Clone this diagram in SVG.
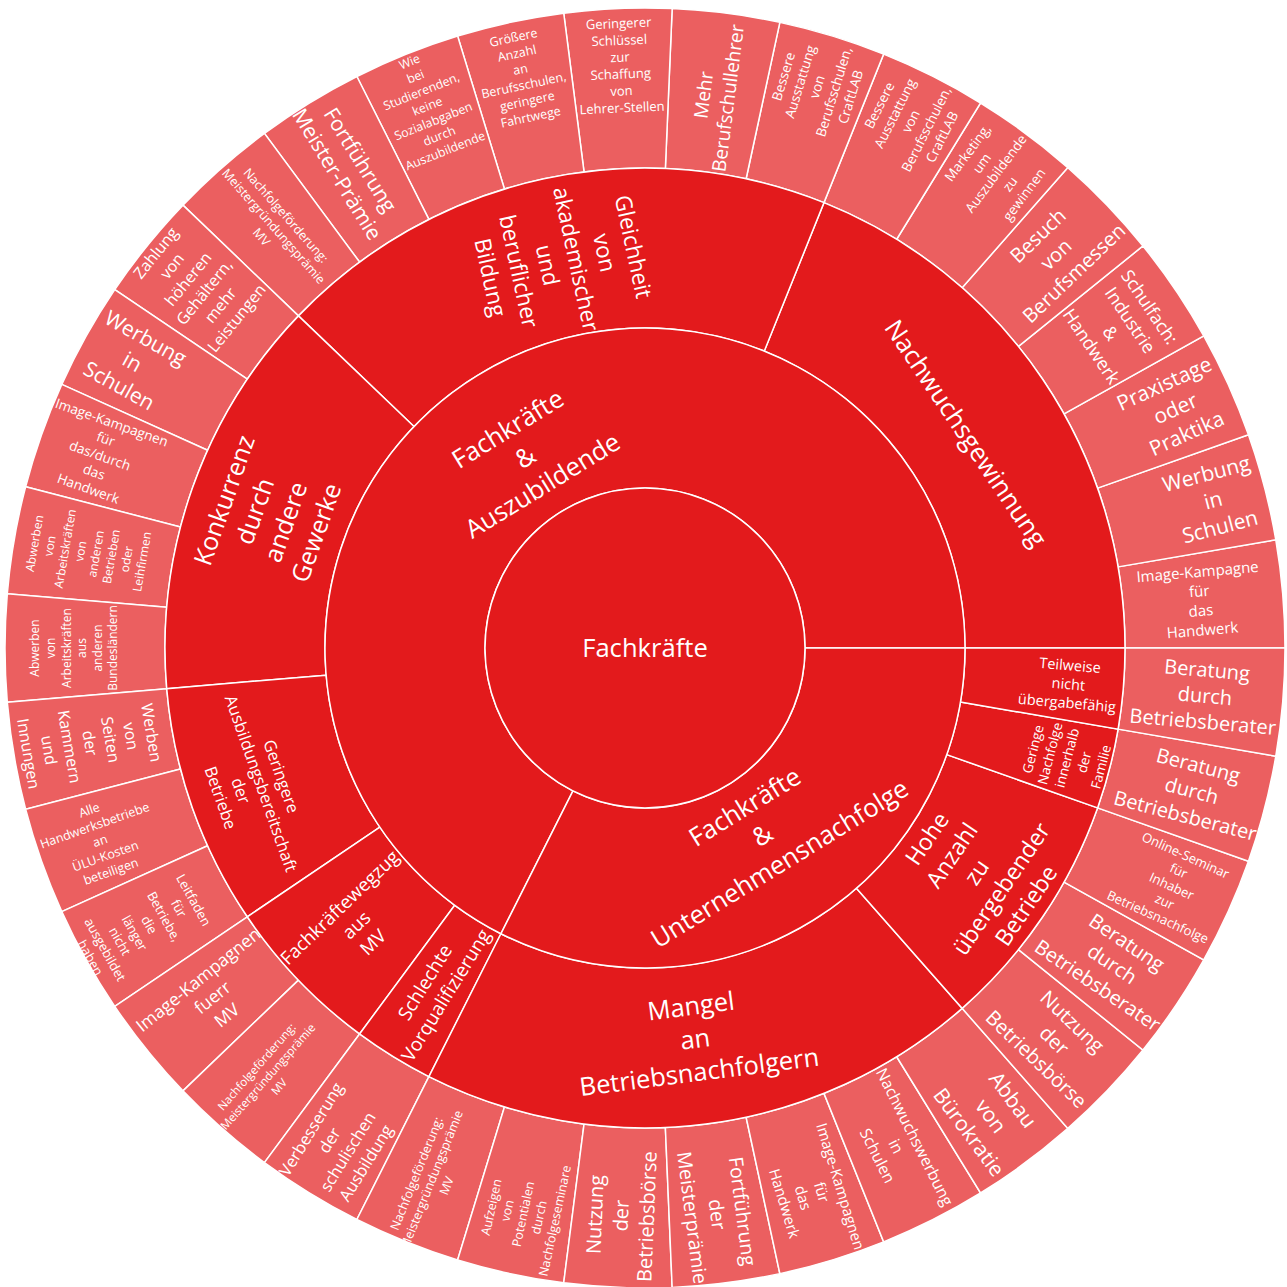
<svg xmlns="http://www.w3.org/2000/svg" width="1287" height="1287" viewBox="0 0 1287 1287">
<style>
.inner{fill:#E31A1C;stroke:#fff;stroke-width:1.5}
.leaf{fill:#EB5F60;stroke:#fff;stroke-width:1.5}
text{font-family:"Open Sans","DejaVu Sans",sans-serif;fill:#fff;text-anchor:middle}
</style>
<rect width="1287" height="1287" fill="#fff"/>
<g id="leaves">
<g id="leaf-00"><path class="leaf" d="M1125,648L1285,648A640,640 0 0 0 1275.80,539.84L1118.10,566.88A480,480 0 0 1 1125,648Z"/>
<text font-size="15" transform="translate(1200.0,600.8) rotate(-4.86)"><tspan x="0" dy="-1.59em">Image-Kampagne</tspan><tspan x="0" dy="1.3em">für</tspan><tspan x="0" dy="1.3em">das</tspan><tspan x="0" dy="1.3em">Handwerk</tspan></text></g>
<g id="leaf-01"><path class="leaf" d="M1118.10,566.88L1275.80,539.84A640,640 0 0 0 1248.44,434.79L1097.58,488.09A480,480 0 0 1 1118.10,566.88Z"/>
<text font-size="21" transform="translate(1213.1,500.1) rotate(-14.59)"><tspan x="0" dy="-0.94em">Werbung</tspan><tspan x="0" dy="1.3em">in</tspan><tspan x="0" dy="1.3em">Schulen</tspan></text></g>
<g id="leaf-02"><path class="leaf" d="M1097.58,488.09L1248.44,434.79A640,640 0 0 0 1203.73,335.87L1064.05,413.90A480,480 0 0 1 1097.58,488.09Z"/>
<text font-size="21" transform="translate(1175.3,408.3) rotate(-24.32)"><tspan x="0" dy="-0.94em">Praxistage</tspan><tspan x="0" dy="1.3em">oder</tspan><tspan x="0" dy="1.3em">Praktika</tspan></text></g>
<g id="leaf-03"><path class="leaf" d="M1064.05,413.90L1203.73,335.87A640,640 0 0 0 1142.95,245.94L1018.46,346.45A480,480 0 0 1 1064.05,413.90Z"/>
<text font-size="18" transform="translate(1120.6,326.6) rotate(55.95)"><tspan x="0" dy="-1.59em">Schulfach:</tspan><tspan x="0" dy="1.3em">Industrie</tspan><tspan x="0" dy="1.3em">&amp;</tspan><tspan x="0" dy="1.3em">Handwerk</tspan></text></g>
<g id="leaf-04"><path class="leaf" d="M1018.46,346.45L1142.95,245.94A640,640 0 0 0 1067.84,167.57L962.13,287.68A480,480 0 0 1 1018.46,346.45Z"/>
<text font-size="20" transform="translate(1055.8,254.3) rotate(-43.78)"><tspan x="0" dy="-0.94em">Besuch</tspan><tspan x="0" dy="1.3em">von</tspan><tspan x="0" dy="1.3em">Berufsmessen</tspan></text></g>
<g id="leaf-05"><path class="leaf" d="M962.13,287.68L1067.84,167.57A640,640 0 0 0 980.56,103.01L896.67,239.26A480,480 0 0 1 962.13,287.68Z"/>
<text font-size="13.5" transform="translate(995.8,173.6) rotate(-53.51)"><tspan x="0" dy="-2.24em">Marketing,</tspan><tspan x="0" dy="1.3em">um</tspan><tspan x="0" dy="1.3em">Auszubildende</tspan><tspan x="0" dy="1.3em">zu</tspan><tspan x="0" dy="1.3em">gewinnen</tspan></text></g>
<g id="leaf-06"><path class="leaf" d="M896.67,239.26L980.56,103.01A640,640 0 0 0 883.63,54.15L823.97,202.61A480,480 0 0 1 896.67,239.26Z"/>
<text font-size="13.5" transform="translate(910.6,121.2) rotate(-63.24)"><tspan x="0" dy="-2.24em">Bessere</tspan><tspan x="0" dy="1.3em">Ausstattung</tspan><tspan x="0" dy="1.3em">von</tspan><tspan x="0" dy="1.3em">Berufsschulen,</tspan><tspan x="0" dy="1.3em">CraftLAB</tspan></text></g>
<g id="leaf-07"><path class="leaf" d="M823.97,202.61L883.63,54.15A640,640 0 0 0 779.84,22.36L746.13,178.77A480,480 0 0 1 823.97,202.61Z"/>
<text font-size="13.5" transform="translate(816.9,86.7) rotate(-72.97)"><tspan x="0" dy="-2.24em">Bessere</tspan><tspan x="0" dy="1.3em">Ausstattung</tspan><tspan x="0" dy="1.3em">von</tspan><tspan x="0" dy="1.3em">Berufsschulen,</tspan><tspan x="0" dy="1.3em">CraftLAB</tspan></text></g>
<g id="leaf-08"><path class="leaf" d="M746.13,178.77L779.84,22.36A640,640 0 0 0 672.16,8.58L665.37,168.43A480,480 0 0 1 746.13,178.77Z"/>
<text font-size="19" transform="translate(715.6,96.5) rotate(-82.70)"><tspan x="0" dy="-0.29em">Mehr</tspan><tspan x="0" dy="1.3em">Berufschullehrer</tspan></text></g>
<g id="leaf-09"><path class="leaf" d="M665.37,168.43L672.16,8.58A640,640 0 0 0 563.71,13.18L584.03,171.89A480,480 0 0 1 665.37,168.43Z"/>
<text font-size="13" transform="translate(620.3,65.5) rotate(-2.43)"><tspan x="0" dy="-2.89em">Geringerer</tspan><tspan x="0" dy="1.3em">Schlüssel</tspan><tspan x="0" dy="1.3em">zur</tspan><tspan x="0" dy="1.3em">Schaffung</tspan><tspan x="0" dy="1.3em">von</tspan><tspan x="0" dy="1.3em">Lehrer-Stellen</tspan></text></g>
<g id="leaf-10"><path class="leaf" d="M584.03,171.89L563.71,13.18A640,640 0 0 0 457.60,36.05L504.45,189.04A480,480 0 0 1 584.03,171.89Z"/>
<text font-size="12.5" transform="translate(522.0,77.1) rotate(-12.16)"><tspan x="0" dy="-2.89em">Größere</tspan><tspan x="0" dy="1.3em">Anzahl</tspan><tspan x="0" dy="1.3em">an</tspan><tspan x="0" dy="1.3em">Berufsschulen,</tspan><tspan x="0" dy="1.3em">geringere</tspan><tspan x="0" dy="1.3em">Fahrtwege</tspan></text></g>
<g id="leaf-11"><path class="leaf" d="M504.45,189.04L457.60,36.05A640,640 0 0 0 356.87,76.52L428.90,219.39A480,480 0 0 1 504.45,189.04Z"/>
<text font-size="12.3" transform="translate(427.3,106.1) rotate(-21.89)"><tspan x="0" dy="-3.54em">Wie</tspan><tspan x="0" dy="1.3em">bei</tspan><tspan x="0" dy="1.3em">Studierenden,</tspan><tspan x="0" dy="1.3em">keine</tspan><tspan x="0" dy="1.3em">Sozialabgaben</tspan><tspan x="0" dy="1.3em">durch</tspan><tspan x="0" dy="1.3em">Auszubildende</tspan></text></g>
<g id="leaf-12"><path class="leaf" d="M428.90,219.39L356.87,76.52A640,640 0 0 0 264.42,133.42L359.57,262.07A480,480 0 0 1 428.90,219.39Z"/>
<text font-size="21" transform="translate(348.8,166.9) rotate(58.38)"><tspan x="0" dy="-0.29em">Fortführung</tspan><tspan x="0" dy="1.3em">Meister-Prämie</tspan></text></g>
<g id="leaf-13"><path class="leaf" d="M359.57,262.07L264.42,133.42A640,640 0 0 0 182.95,205.15L298.46,315.86A480,480 0 0 1 359.57,262.07Z"/>
<text font-size="12.5" transform="translate(273.7,226.1) rotate(48.65)"><tspan x="0" dy="-0.94em">Nachfolgeförderung:</tspan><tspan x="0" dy="1.3em">Meistergründungsprämie</tspan><tspan x="0" dy="1.3em">MV</tspan></text></g>
<g id="leaf-14"><path class="leaf" d="M298.46,315.86L182.95,205.15A640,640 0 0 0 114.75,289.62L247.32,379.21A480,480 0 0 1 298.46,315.86Z"/>
<text font-size="16" transform="translate(196.1,285.5) rotate(-51.08)"><tspan x="0" dy="-2.89em">Zahlung</tspan><tspan x="0" dy="1.3em">von</tspan><tspan x="0" dy="1.3em">höheren</tspan><tspan x="0" dy="1.3em">Gehältern,</tspan><tspan x="0" dy="1.3em">mehr</tspan><tspan x="0" dy="1.3em">Leistungen</tspan></text></g>
<g id="leaf-15"><path class="leaf" d="M247.32,379.21L114.75,289.62A640,640 0 0 0 61.80,384.38L207.60,450.28A480,480 0 0 1 247.32,379.21Z"/>
<text font-size="21" transform="translate(132.5,361.7) rotate(29.19)"><tspan x="0" dy="-0.94em">Werbung</tspan><tspan x="0" dy="1.3em">in</tspan><tspan x="0" dy="1.3em">Schulen</tspan></text></g>
<g id="leaf-16"><path class="leaf" d="M207.60,450.28L61.80,384.38A640,640 0 0 0 25.63,486.73L180.48,527.04A480,480 0 0 1 207.60,450.28Z"/>
<text font-size="13.5" transform="translate(100.0,455.4) rotate(19.46)"><tspan x="0" dy="-2.24em">Image-Kampagnen</tspan><tspan x="0" dy="1.3em">für</tspan><tspan x="0" dy="1.3em">das/durch</tspan><tspan x="0" dy="1.3em">das</tspan><tspan x="0" dy="1.3em">Handwerk</tspan></text></g>
<g id="leaf-17"><path class="leaf" d="M180.48,527.04L25.63,486.73A640,640 0 0 0 7.30,593.72L166.73,607.29A480,480 0 0 1 180.48,527.04Z"/>
<text font-size="12" transform="translate(88.1,552.5) rotate(-80.27)"><tspan x="0" dy="-4.19em">Abwerben</tspan><tspan x="0" dy="1.3em">von</tspan><tspan x="0" dy="1.3em">Arbeitskräften</tspan><tspan x="0" dy="1.3em">von</tspan><tspan x="0" dy="1.3em">anderen</tspan><tspan x="0" dy="1.3em">Betrieben</tspan><tspan x="0" dy="1.3em">oder</tspan><tspan x="0" dy="1.3em">Leihfirmen</tspan></text></g>
<g id="leaf-18"><path class="leaf" d="M166.73,607.29L7.30,593.72A640,640 0 0 0 7.30,702.28L166.73,688.71A480,480 0 0 1 166.73,607.29Z"/>
<text font-size="12" transform="translate(74,648) rotate(-90)"><tspan x="0" dy="-2.89em">Abwerben</tspan><tspan x="0" dy="1.3em">von</tspan><tspan x="0" dy="1.3em">Arbeitskräften</tspan><tspan x="0" dy="1.3em">aus</tspan><tspan x="0" dy="1.3em">anderen</tspan><tspan x="0" dy="1.3em">Bundesländern</tspan></text></g>
<g id="leaf-19"><path class="leaf" d="M166.73,688.71L7.30,702.28A640,640 0 0 0 25.63,809.27L180.48,768.96A480,480 0 0 1 166.73,688.71Z"/>
<text font-size="16" transform="translate(90.1,743.1) rotate(80.27)"><tspan x="0" dy="-3.54em">Werben</tspan><tspan x="0" dy="1.3em">von</tspan><tspan x="0" dy="1.3em">Seiten</tspan><tspan x="0" dy="1.3em">der</tspan><tspan x="0" dy="1.3em">Kammern</tspan><tspan x="0" dy="1.3em">und</tspan><tspan x="0" dy="1.3em">Innungen</tspan></text></g>
<g id="leaf-20"><path class="leaf" d="M180.48,768.96L25.63,809.27A640,640 0 0 0 61.80,911.62L207.60,845.72A480,480 0 0 1 180.48,768.96Z"/>
<text font-size="12.5" transform="translate(100.0,840.6) rotate(-19.46)"><tspan x="0" dy="-2.24em">Alle</tspan><tspan x="0" dy="1.3em">Handwerksbetriebe</tspan><tspan x="0" dy="1.3em">an</tspan><tspan x="0" dy="1.3em">ÜLU-Kosten</tspan><tspan x="0" dy="1.3em">beteiligen</tspan></text></g>
<g id="leaf-21"><path class="leaf" d="M207.60,845.72L61.80,911.62A640,640 0 0 0 114.75,1006.38L247.32,916.79A480,480 0 0 1 207.60,845.72Z"/>
<text font-size="13" transform="translate(142.1,928.9) rotate(60.81)"><tspan x="0" dy="-4.19em">Leitfaden</tspan><tspan x="0" dy="1.3em">für</tspan><tspan x="0" dy="1.3em">Betriebe,</tspan><tspan x="0" dy="1.3em">die</tspan><tspan x="0" dy="1.3em">länger</tspan><tspan x="0" dy="1.3em">nicht</tspan><tspan x="0" dy="1.3em">ausgebildet</tspan><tspan x="0" dy="1.3em">haben</tspan></text></g>
<g id="leaf-22"><path class="leaf" d="M247.32,916.79L114.75,1006.38A640,640 0 0 0 182.95,1090.85L298.46,980.14A480,480 0 0 1 247.32,916.79Z"/>
<text font-size="17.5" transform="translate(212.4,997.3) rotate(-38.92)"><tspan x="0" dy="-0.94em">Image-Kampagnen</tspan><tspan x="0" dy="1.3em">fuerr</tspan><tspan x="0" dy="1.3em">MV</tspan></text></g>
<g id="leaf-23"><path class="leaf" d="M298.46,980.14L182.95,1090.85A640,640 0 0 0 264.42,1162.58L359.57,1033.93A480,480 0 0 1 298.46,980.14Z"/>
<text font-size="11.5" transform="translate(267.8,1076.6) rotate(-48.65)"><tspan x="0" dy="-0.94em">Nachfolgeförderung:</tspan><tspan x="0" dy="1.3em">Meistergründungsprämie</tspan><tspan x="0" dy="1.3em">MV</tspan></text></g>
<g id="leaf-24"><path class="leaf" d="M359.57,1033.93L264.42,1162.58A640,640 0 0 0 356.87,1219.48L428.90,1076.61A480,480 0 0 1 359.57,1033.93Z"/>
<text font-size="16.5" transform="translate(338.5,1146) rotate(-58.38)"><tspan x="0" dy="-1.59em">Verbesserung</tspan><tspan x="0" dy="1.3em">der</tspan><tspan x="0" dy="1.3em">schulischen</tspan><tspan x="0" dy="1.3em">Ausbildung</tspan></text></g>
<g id="leaf-25"><path class="leaf" d="M428.90,1076.61L356.87,1219.48A640,640 0 0 0 457.60,1259.95L504.45,1106.96A480,480 0 0 1 428.90,1076.61Z"/>
<text font-size="12.5" transform="translate(431.4,1179.7) rotate(-68.11)"><tspan x="0" dy="-0.94em">Nachfolgeförderung:</tspan><tspan x="0" dy="1.3em">Meistergründungsprämie</tspan><tspan x="0" dy="1.3em">MV</tspan></text></g>
<g id="leaf-26"><path class="leaf" d="M504.45,1106.96L457.60,1259.95A640,640 0 0 0 563.71,1282.82L584.03,1124.11A480,480 0 0 1 504.45,1106.96Z"/>
<text font-size="12.5" transform="translate(523.0,1214.0) rotate(-77.84)"><tspan x="0" dy="-2.24em">Aufzeigen</tspan><tspan x="0" dy="1.3em">von</tspan><tspan x="0" dy="1.3em">Potentialen</tspan><tspan x="0" dy="1.3em">durch</tspan><tspan x="0" dy="1.3em">Nachfolgeseminare</tspan></text></g>
<g id="leaf-27"><path class="leaf" d="M584.03,1124.11L563.71,1282.82A640,640 0 0 0 672.16,1287.42L665.37,1127.57A480,480 0 0 1 584.03,1124.11Z"/>
<text font-size="20" transform="translate(620.9,1215.5) rotate(-87.57)"><tspan x="0" dy="-0.94em">Nutzung</tspan><tspan x="0" dy="1.3em">der</tspan><tspan x="0" dy="1.3em">Betriebsbörse</tspan></text></g>
<g id="leaf-28"><path class="leaf" d="M665.37,1127.57L672.16,1287.42A640,640 0 0 0 779.84,1273.64L746.13,1117.23A480,480 0 0 1 665.37,1127.57Z"/>
<text font-size="19.5" transform="translate(717.5,1214.4) rotate(82.70)"><tspan x="0" dy="-0.94em">Fortführung</tspan><tspan x="0" dy="1.3em">der</tspan><tspan x="0" dy="1.3em">Meisterprämie</tspan></text></g>
<g id="leaf-29"><path class="leaf" d="M746.13,1117.23L779.84,1273.64A640,640 0 0 0 883.63,1241.85L823.97,1093.39A480,480 0 0 1 746.13,1117.23Z"/>
<text font-size="15" transform="translate(812.5,1194.9) rotate(72.97)"><tspan x="0" dy="-1.59em">Image-Kampagnen</tspan><tspan x="0" dy="1.3em">für</tspan><tspan x="0" dy="1.3em">das</tspan><tspan x="0" dy="1.3em">Handwerk</tspan></text></g>
<g id="leaf-30"><path class="leaf" d="M823.97,1093.39L883.63,1241.85A640,640 0 0 0 980.56,1192.99L896.67,1056.74A480,480 0 0 1 823.97,1093.39Z"/>
<text font-size="16" transform="translate(896.2,1146.3) rotate(63.24)"><tspan x="0" dy="-0.94em">Nachwuchswerbung</tspan><tspan x="0" dy="1.3em">in</tspan><tspan x="0" dy="1.3em">Schulen</tspan></text></g>
<g id="leaf-31"><path class="leaf" d="M896.67,1056.74L980.56,1192.99A640,640 0 0 0 1067.84,1128.43L962.13,1008.32A480,480 0 0 1 896.67,1056.74Z"/>
<text font-size="21" transform="translate(991.1,1115.9) rotate(53.51)"><tspan x="0" dy="-0.94em">Abbau</tspan><tspan x="0" dy="1.3em">von</tspan><tspan x="0" dy="1.3em">Bürokratie</tspan></text></g>
<g id="leaf-32"><path class="leaf" d="M962.13,1008.32L1067.84,1128.43A640,640 0 0 0 1142.95,1050.06L1018.46,949.55A480,480 0 0 1 962.13,1008.32Z"/>
<text font-size="20" transform="translate(1054.4,1040.3) rotate(43.78)"><tspan x="0" dy="-0.94em">Nutzung</tspan><tspan x="0" dy="1.3em">der</tspan><tspan x="0" dy="1.3em">Betriebsbörse</tspan></text></g>
<g id="leaf-33"><path class="leaf" d="M1018.46,949.55L1142.95,1050.06A640,640 0 0 0 1203.73,959.87L1064.05,882.10A480,480 0 0 1 1018.46,949.55Z"/>
<text font-size="20" transform="translate(1112.3,963.8) rotate(34.05)"><tspan x="0" dy="-0.94em">Beratung</tspan><tspan x="0" dy="1.3em">durch</tspan><tspan x="0" dy="1.3em">Betriebsberater</tspan></text></g>
<g id="leaf-34"><path class="leaf" d="M1064.05,882.10L1203.73,959.87A640,640 0 0 0 1248.44,861.21L1097.58,807.91A480,480 0 0 1 1064.05,882.10Z"/>
<text font-size="13" transform="translate(1171.7,886.1) rotate(24.32)"><tspan x="0" dy="-2.24em">Online-Seminar</tspan><tspan x="0" dy="1.3em">für</tspan><tspan x="0" dy="1.3em">Inhaber</tspan><tspan x="0" dy="1.3em">zur</tspan><tspan x="0" dy="1.3em">Betriebsnachfolge</tspan></text></g>
<g id="leaf-35"><path class="leaf" d="M1097.58,807.91L1248.44,861.21A640,640 0 0 0 1275.80,756.16L1118.10,729.12A480,480 0 0 1 1097.58,807.91Z"/>
<text font-size="20" transform="translate(1191.8,790.4) rotate(14.59)"><tspan x="0" dy="-0.94em">Beratung</tspan><tspan x="0" dy="1.3em">durch</tspan><tspan x="0" dy="1.3em">Betriebsberater</tspan></text></g>
<g id="leaf-36"><path class="leaf" d="M1118.10,729.12L1275.80,756.16A640,640 0 0 0 1285,648L1125,648A480,480 0 0 1 1118.10,729.12Z"/>
<text font-size="20" transform="translate(1205.0,695.7) rotate(4.86)"><tspan x="0" dy="-0.94em">Beratung</tspan><tspan x="0" dy="1.3em">durch</tspan><tspan x="0" dy="1.3em">Betriebsberater</tspan></text></g>
</g>
<g id="ring2">
<g id="nachwuchsgewinnung"><path class="inner" d="M965,648L1125,648A480,480 0 0 0 823.97,202.61L764.32,351.08A320,320 0 0 1 965,648Z"/>
<text font-size="25.5" transform="translate(966,433) rotate(55.95)"><tspan x="0" dy="0.36em">Nachwuchsgewinnung</tspan></text></g>
<g id="gleichheit"><path class="inner" d="M764.32,351.08L823.97,202.61A480,480 0 0 0 298.46,315.86L413.97,426.58A320,320 0 0 1 764.32,351.08Z"/>
<text font-size="22.5" transform="translate(562,262) rotate(77.84)"><tspan x="0" dy="-2.89em">Gleichheit</tspan><tspan x="0" dy="1.3em">von</tspan><tspan x="0" dy="1.3em">akademischer</tspan><tspan x="0" dy="1.3em">und</tspan><tspan x="0" dy="1.3em">beruflicher</tspan><tspan x="0" dy="1.3em">Bildung</tspan></text></g>
<g id="konkurrenz"><path class="inner" d="M413.97,426.58L298.46,315.86A480,480 0 0 0 166.73,688.71L326.15,675.14A320,320 0 0 1 413.97,426.58Z"/>
<text font-size="25" transform="translate(270,516.5) rotate(-70.54)"><tspan x="0" dy="-1.59em">Konkurrenz</tspan><tspan x="0" dy="1.3em">durch</tspan><tspan x="0" dy="1.3em">andere</tspan><tspan x="0" dy="1.3em">Gewerke</tspan></text></g>
<g id="ausbildungsbereitschaft"><path class="inner" d="M326.15,675.14L166.73,688.71A480,480 0 0 0 247.32,916.79L379.88,827.19A320,320 0 0 1 326.15,675.14Z"/>
<text font-size="16.5" transform="translate(251,787) rotate(70.54)"><tspan x="0" dy="-1.59em">Geringere</tspan><tspan x="0" dy="1.3em">Ausbildungsbereitschaft</tspan><tspan x="0" dy="1.3em">der</tspan><tspan x="0" dy="1.3em">Betriebe</tspan></text></g>
<g id="fachkraeftewegzug"><path class="inner" d="M379.88,827.19L247.32,916.79A480,480 0 0 0 359.57,1033.93L454.71,905.29A320,320 0 0 1 379.88,827.19Z"/>
<text font-size="18.5" transform="translate(356.2,924.8) rotate(-43.78)"><tspan x="0" dy="-0.94em">Fachkräftewegzug</tspan><tspan x="0" dy="1.3em">aus</tspan><tspan x="0" dy="1.3em">MV</tspan></text></g>
<g id="vorqualifizierung"><path class="inner" d="M454.71,905.29L359.57,1033.93A480,480 0 0 0 428.90,1076.61L500.93,933.74A320,320 0 0 1 454.71,905.29Z"/>
<text font-size="19" transform="translate(435.3,988.6) rotate(-58.38)"><tspan x="0" dy="-0.29em">Schlechte</tspan><tspan x="0" dy="1.3em">Vorqualifizierung</tspan></text></g>
<g id="mangel"><path class="inner" d="M500.93,933.74L428.90,1076.61A480,480 0 0 0 962.13,1008.32L856.42,888.21A320,320 0 0 1 500.93,933.74Z"/>
<text font-size="25.5" transform="translate(695,1038.8) rotate(-7.3)"><tspan x="0" dy="-0.94em">Mangel</tspan><tspan x="0" dy="1.3em">an</tspan><tspan x="0" dy="1.3em">Betriebsnachfolgern</tspan></text></g>
<g id="hohe-anzahl"><path class="inner" d="M856.42,888.21L962.13,1008.32A480,480 0 0 0 1097.58,807.91L946.72,754.60A320,320 0 0 1 856.42,888.21Z"/>
<text font-size="23" transform="translate(976.4,872) rotate(-55.95)"><tspan x="0" dy="-2.24em">Hohe</tspan><tspan x="0" dy="1.3em">Anzahl</tspan><tspan x="0" dy="1.3em">zu</tspan><tspan x="0" dy="1.3em">übergebender</tspan><tspan x="0" dy="1.3em">Betriebe</tspan></text></g>
<g id="familie"><path class="inner" d="M946.72,754.60L1097.58,807.91A480,480 0 0 0 1118.10,729.12L960.40,702.08A320,320 0 0 1 946.72,754.60Z"/>
<text font-size="13.5" transform="translate(1066.9,757.9) rotate(-75.41)"><tspan x="0" dy="-2.24em">Geringe</tspan><tspan x="0" dy="1.3em">Nachfolge</tspan><tspan x="0" dy="1.3em">innerhalb</tspan><tspan x="0" dy="1.3em">der</tspan><tspan x="0" dy="1.3em">Familie</tspan></text></g>
<g id="teilweise"><path class="inner" d="M960.40,702.08L1118.10,729.12A480,480 0 0 0 1125,648L965,648A320,320 0 0 1 960.40,702.08Z"/>
<text font-size="14.5" transform="translate(1068.5,684) rotate(4.86)"><tspan x="0" dy="-0.94em">Teilweise</tspan><tspan x="0" dy="1.3em">nicht</tspan><tspan x="0" dy="1.3em">übergabefähig</tspan></text></g>
</g>
<g id="ring1">
<g id="auszubildende"><path class="inner" d="M805,648L965,648A320,320 0 1 0 500.93,933.74L572.97,790.87A160,160 0 1 1 805,648Z"/>
<text font-size="25.6" transform="translate(525,457) rotate(-31.62)"><tspan x="0" dy="-0.94em">Fachkräfte</tspan><tspan x="0" dy="1.3em">&amp;</tspan><tspan x="0" dy="1.3em">Auszubildende</tspan></text></g>
<g id="unternehmensnachfolge"><path class="inner" d="M572.97,790.87L500.93,933.74A320,320 0 0 0 965,648L805,648A160,160 0 0 1 572.97,790.87Z"/>
<text font-size="25.6" transform="translate(762,835) rotate(-31.62)"><tspan x="0" dy="-0.94em">Fachkräfte</tspan><tspan x="0" dy="1.3em">&amp;</tspan><tspan x="0" dy="1.3em">Unternehmensnachfolge</tspan></text></g>
</g>
<g id="root"><circle class="inner" cx="645" cy="648" r="160"/>
<text font-size="25.6" x="645" y="648" dy="0.36em">Fachkräfte</text></g>
</svg>
